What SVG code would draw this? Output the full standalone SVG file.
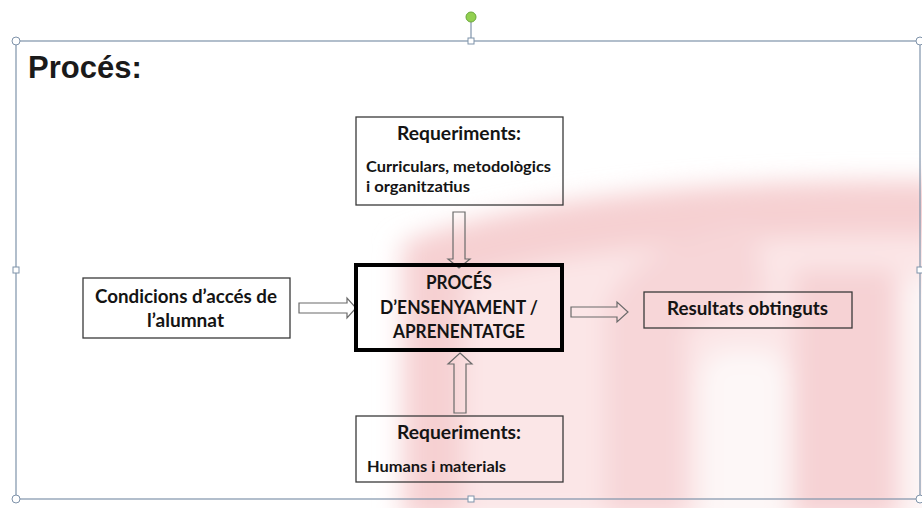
<svg xmlns="http://www.w3.org/2000/svg" width="922" height="508" viewBox="0 0 922 508">
<defs>
<filter id="blur" filterUnits="userSpaceOnUse" x="0" y="0" width="922" height="508"><feGaussianBlur stdDeviation="12"/></filter>
</defs>
<style>
.t{font-family:"Lato","Liberation Sans",sans-serif;font-weight:700;fill:#141414}
.box{fill:none;stroke:#3a3a3a;stroke-width:1.3}
.main{fill:none;stroke:#000;stroke-width:4}
.arr{fill:none;stroke:#6a6a6a;stroke-width:1.2;stroke-linejoin:miter}
.sel{fill:none;stroke:#7f93aa;stroke-width:1.2}
.hc{fill:#fff;stroke:#7f93aa;stroke-width:1}
</style>
<rect width="922" height="508" fill="#fff"/>
<g id="watermark" filter="url(#blur)">
<path d="M398,520 L398,245 Q560,178 940,182 L940,520 Z" fill="#fbe6e7"/>
<path d="M435,520 L435,260 Q600,205 940,208" fill="none" stroke="#f6d0d2" stroke-width="55"/>
<path d="M645,520 L645,320 Q660,280 760,262" fill="none" stroke="#f7d6d8" stroke-width="80"/>
<path d="M845,520 L845,270" fill="none" stroke="#f6d2d4" stroke-width="100"/>
<rect x="700" y="350" width="88" height="190" rx="30" fill="#fdf7f7"/>
<rect x="905" y="280" width="40" height="260" fill="#fdf7f7"/>
</g>
<g id="frame">
<rect class="sel" x="16" y="41" width="904" height="458"/>
<line x1="471" y1="22" x2="471" y2="41" stroke="#7f93aa" stroke-width="1.2"/>
<circle cx="471" cy="17" r="5" fill="#92d050" stroke="#6aa83a" stroke-width="1"/>
<circle class="hc" cx="16" cy="41" r="4"/>
<circle class="hc" cx="16" cy="499" r="4"/>
<circle class="hc" cx="920" cy="41" r="4"/>
<circle class="hc" cx="920" cy="499" r="4"/>
<rect class="hc" x="468" y="38" width="6" height="6"/>
<rect class="hc" x="468" y="496" width="6" height="6"/>
<rect class="hc" x="13" y="267" width="6" height="6"/>
<rect class="hc" x="917" y="267" width="6" height="6"/>
</g>
<text x="28" y="78" style="font-family:'Liberation Sans',Arial,sans-serif;font-weight:700;font-size:31px;fill:#1a1a1a">Procés:</text>
<g id="connectors">
<polygon class="arr" points="453,212 465,212 465,259 470,259 459,268 448,259 453,259"/>
<polygon class="arr" points="460,353 472,364 466,364 466,413 454,413 454,364 448,364"/>
<polygon class="arr" points="299,303 347,303 347,298 356,308 347,318 347,313 299,313"/>
<polygon class="arr" points="571,307 617,307 617,302 628,312 617,322 617,317 571,317"/>
</g>
<g id="req-top">
<rect class="box" x="356" y="117" width="207" height="88"/>
<text class="t" x="397" y="140" font-size="18" textLength="124" lengthAdjust="spacingAndGlyphs">Requeriments:</text>
<text class="t" x="366" y="172" font-size="15" textLength="185" lengthAdjust="spacingAndGlyphs">Curriculars, metodològics</text>
<text class="t" x="366" y="192" font-size="15" textLength="104" lengthAdjust="spacingAndGlyphs">i organitzatius</text>
</g>
<g id="proces">
<rect class="main" x="356" y="265" width="206" height="85"/>
<text class="t" x="426" y="289" font-size="18" textLength="66" lengthAdjust="spacingAndGlyphs">PROCÉS</text>
<text class="t" x="380" y="314" font-size="18" textLength="158" lengthAdjust="spacingAndGlyphs">D’ENSENYAMENT /</text>
<text class="t" x="393" y="338" font-size="18" textLength="132" lengthAdjust="spacingAndGlyphs">APRENENTATGE</text>
</g>
<g id="condicions">
<rect class="box" x="83" y="278" width="207" height="60"/>
<text class="t" x="95" y="303" font-size="18" textLength="182" lengthAdjust="spacingAndGlyphs">Condicions d’accés de</text>
<text class="t" x="147" y="327" font-size="18" textLength="77" lengthAdjust="spacingAndGlyphs">l’alumnat</text>
</g>
<g id="resultats">
<rect class="box" x="644" y="292" width="208" height="36"/>
<text class="t" x="667" y="315" font-size="18" textLength="161" lengthAdjust="spacingAndGlyphs">Resultats obtinguts</text>
</g>
<g id="req-bottom">
<rect class="box" x="356" y="416" width="207" height="66"/>
<text class="t" x="397" y="439" font-size="18" textLength="124" lengthAdjust="spacingAndGlyphs">Requeriments:</text>
<text class="t" x="367" y="472" font-size="15" textLength="139" lengthAdjust="spacingAndGlyphs">Humans i materials</text>
</g>
</svg>
